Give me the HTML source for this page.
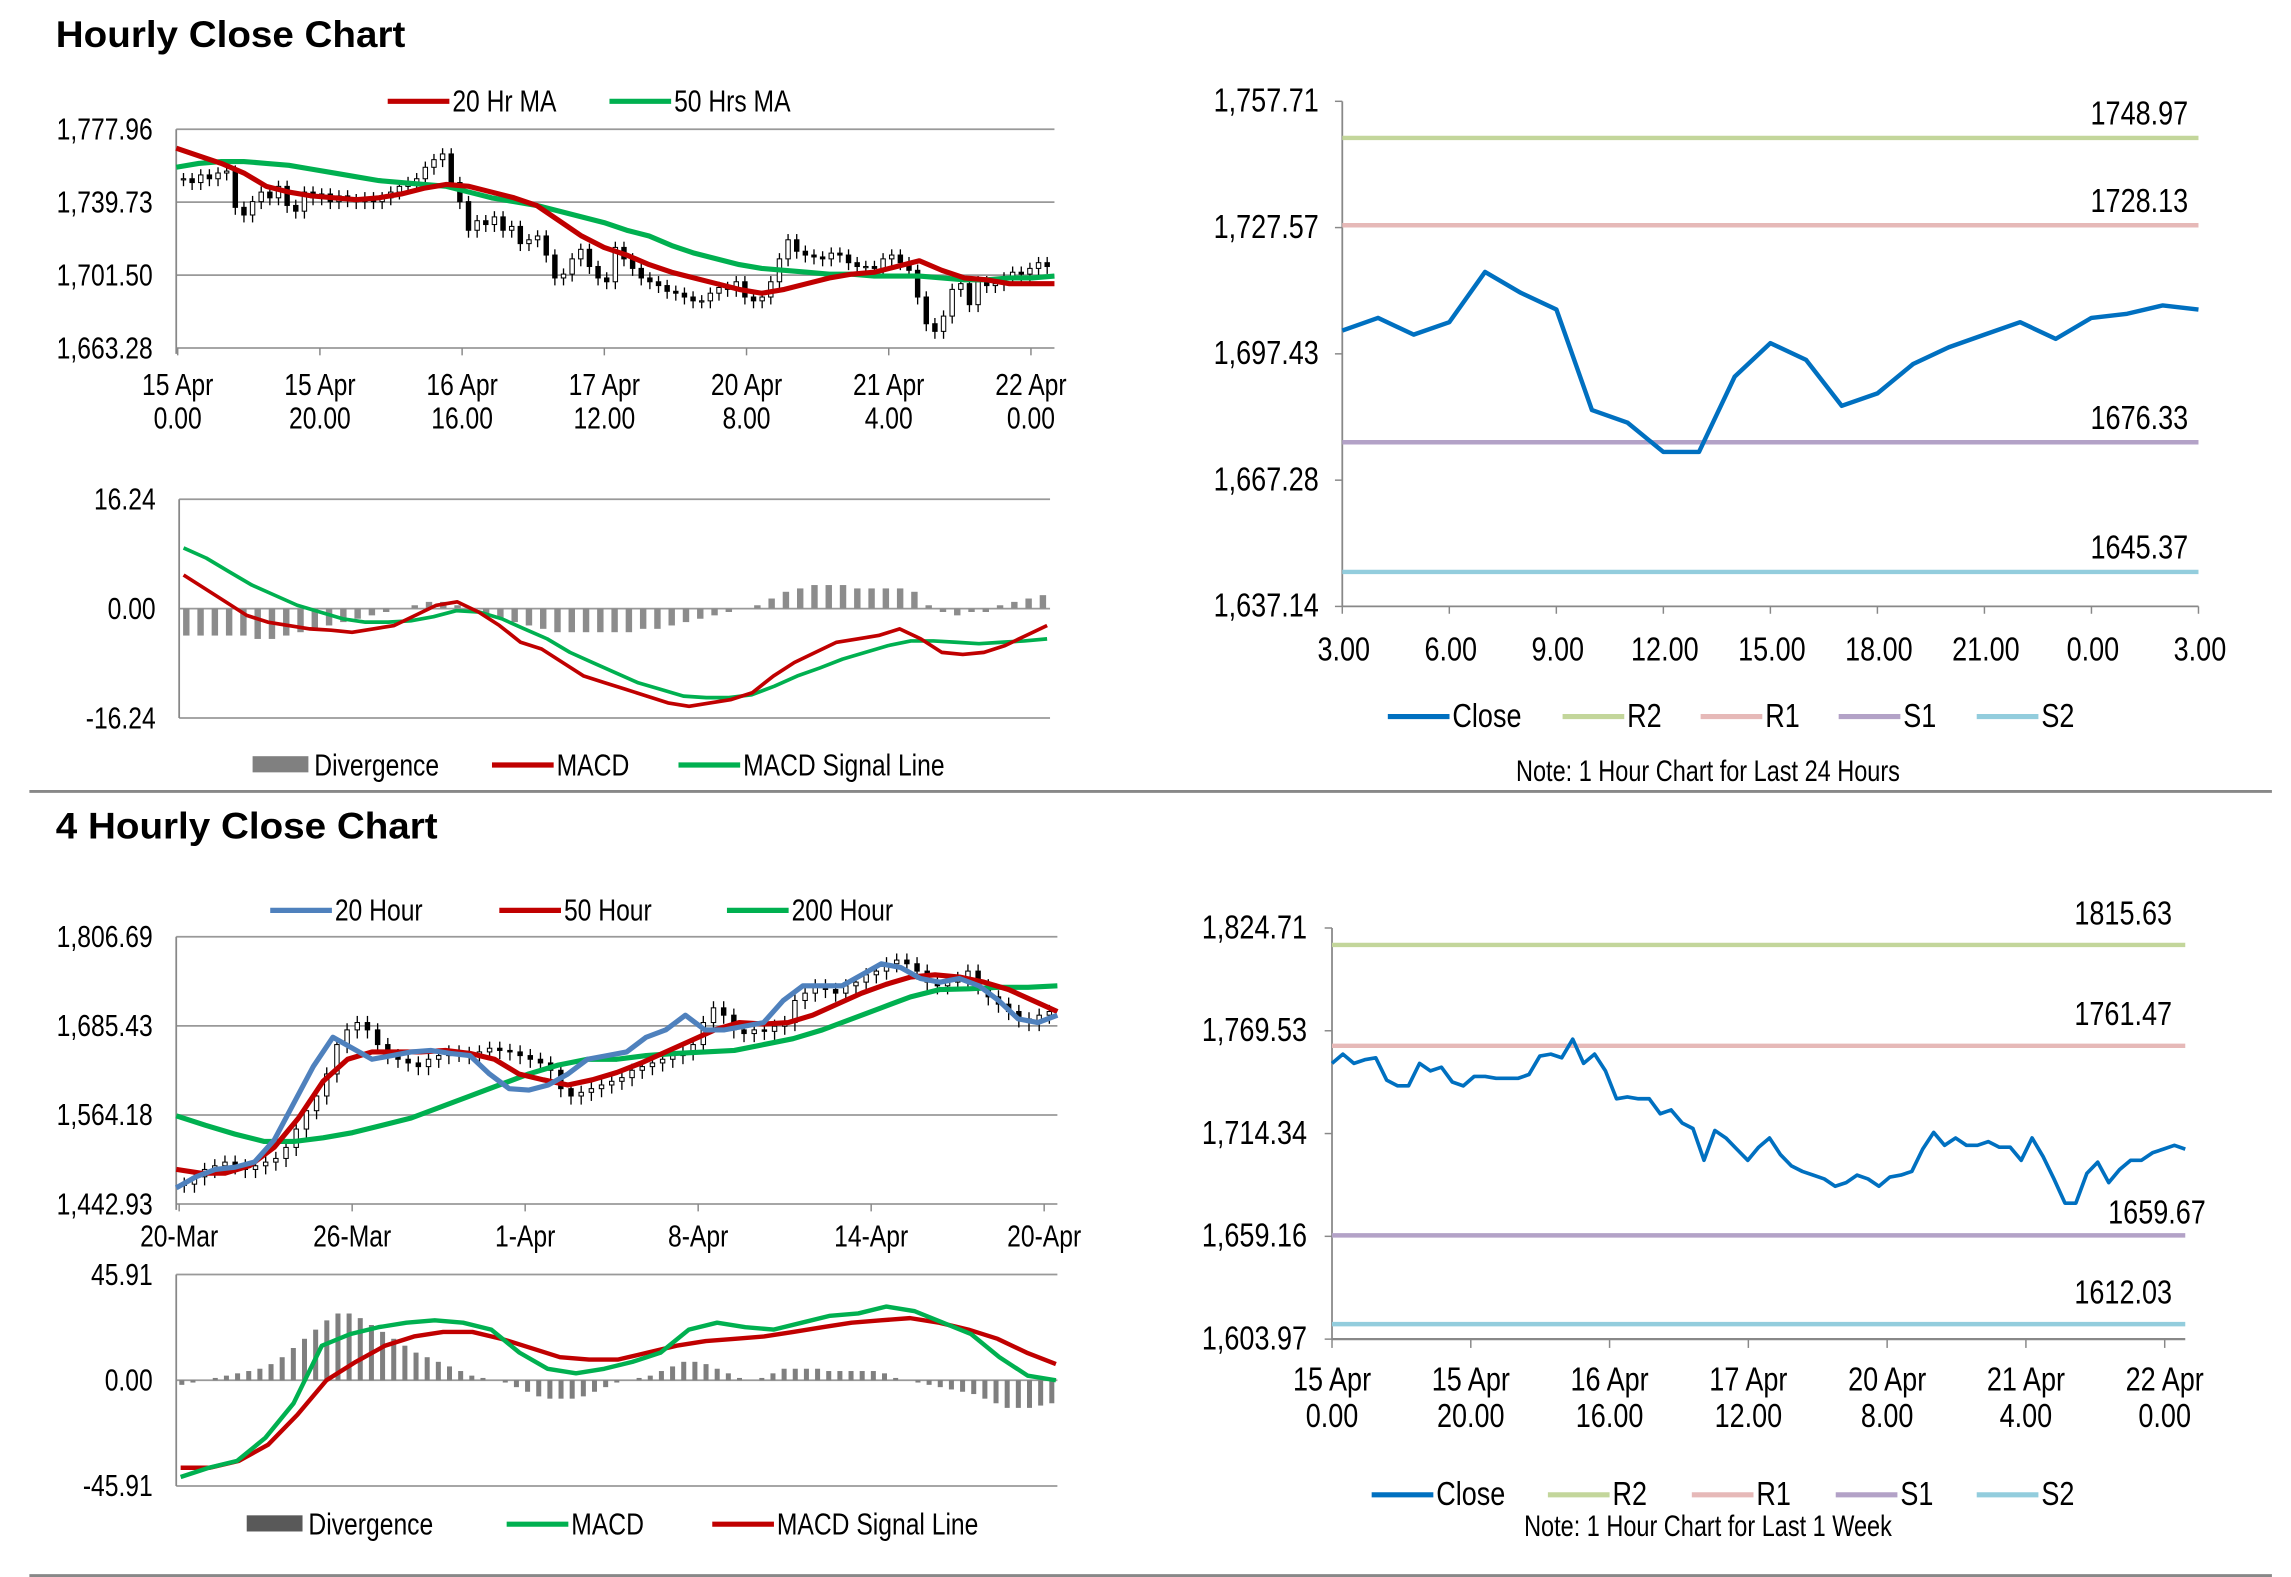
<!DOCTYPE html>
<html><head><meta charset="utf-8"><style>
html,body{margin:0;padding:0;background:#fff;}
svg{display:block;}
text{font-family:"Liberation Sans",sans-serif;fill:#000;}
.t{font-family:"Liberation Sans",sans-serif;font-weight:bold;}
</style></head><body>
<svg id="s" width="2291" height="1577" viewBox="0 0 1560 1074" preserveAspectRatio="none" xmlns="http://www.w3.org/2000/svg">
<text class="t" x="38" y="32" font-size="25" textLength="238" lengthAdjust="spacingAndGlyphs">Hourly Close Chart</text>
<text class="t" x="38" y="571" font-size="25" textLength="260" lengthAdjust="spacingAndGlyphs">4 Hourly Close Chart</text>
<line x1="20" y1="539" x2="1547" y2="539" stroke="#888" stroke-width="2"/>
<line x1="20" y1="1073" x2="1547" y2="1073" stroke="#888" stroke-width="2"/>
</svg>
<script>
// ---------- data ----------
const h1Closes=[1752,1750,1754,1752,1755,1756,1737,1733,1740,1745,1742,1748,1738,1735,1745,1742,1744,1740,1743,1741,1740,1742,1740,1742,1745,1748,1750,1752,1758,1762,1765,1750,1740,1725,1730,1728,1732,1725,1727,1718,1720,1722,1712,1700,1702,1710,1715,1706,1700,1698,1716,1710,1705,1700,1698,1696,1693,1692,1690,1688,1688,1692,1695,1694,1698,1690,1688,1690,1698,1710,1720,1714,1712,1711,1710,1713,1712,1708,1706,1706,1705,1710,1712,1708,1704,1690,1676,1672,1680,1694,1697,1686,1698,1696,1697,1700,1703,1702,1705,1708,1706];
const h1MA20=[1768,1764,1760,1755,1748,1745,1743,1742,1741,1742,1744,1747,1749,1748,1745,1742,1738,1730,1722,1716,1712,1707,1703,1700,1697,1694,1692,1694,1697,1700,1702,1703,1706,1709,1704,1700,1699,1697,1697,1697];
const h1MA50=[1758,1760,1761,1761,1760,1759,1757,1755,1753,1751,1750,1749,1748,1745,1742,1740,1738,1735,1732,1729,1725,1722,1717,1713,1710,1707,1705,1704,1703,1702,1702,1701,1701,1701,1700,1699,1699,1700,1700,1701];
const h1Ticks=[["15 Apr","0.00"],["15 Apr","20.00"],["16 Apr","16.00"],["17 Apr","12.00"],["20 Apr","8.00"],["21 Apr","4.00"],["22 Apr","0.00"]];
const h1YTicks=[1777.96,1739.73,1701.50,1663.28];
const m1Macd=[5,3,1,-1,-2,-2.5,-3,-3.2,-3.5,-3,-2.5,-1,0.5,1,-0.5,-2.5,-5,-6,-8,-10,-11,-12,-13,-14,-14.5,-14,-13.5,-12.5,-10,-8,-6.5,-5,-4.5,-4,-3,-4.5,-6.5,-6.8,-6.5,-5.5,-4,-2.5];
const m1Signal=[9,7.5,5.5,3.5,2,0.5,-0.5,-1.5,-2,-2,-1.8,-1.2,-0.3,-0.5,-1.5,-3,-4.5,-6.5,-8,-9.5,-11,-12,-13,-13.2,-13.2,-12.8,-11.5,-10,-8.8,-7.5,-6.5,-5.5,-4.8,-4.8,-5,-5.2,-5,-4.8,-4.5];
const m1Div=[-4,-4,-4,-4,-4,-4.5,-4.5,-4,-3.5,-3,-2.5,-2,-1.5,-1,-0.5,0,0.5,1,1,0.5,-0.5,-1,-1.5,-2,-2.5,-3,-3.5,-3.5,-3.5,-3.5,-3.5,-3.5,-3,-3,-2.5,-2,-1.5,-1,-0.5,0,0.5,1.5,2.5,3,3.5,3.5,3.5,3,3,3,3,2.5,0.5,-0.5,-1,-0.5,-0.5,0.5,1,1.5,2];
const m1YTicks=[16.24,0,-16.24];
const r1Close=[1703,1706,1702,1705,1717,1712,1708,1684,1681,1674,1674,1692,1700,1696,1685,1688,1695,1699,1702,1705,1701,1706,1707,1709,1708];
const r1Levels=[1748.97,1728.13,1676.33,1645.37];
const r1LevelNames=["R2","R1","S1","S2"];
const r1Ticks=["3.00","6.00","9.00","12.00","15.00","18.00","21.00","0.00","3.00"];
const r1YTicks=[1757.71,1727.57,1697.43,1667.28,1637.14];
const h4Closes=[1470,1480,1490,1495,1500,1495,1490,1495,1500,1505,1520,1545,1570,1590,1620,1660,1680,1690,1680,1660,1645,1640,1635,1630,1640,1645,1650,1648,1645,1650,1655,1652,1650,1645,1640,1635,1625,1600,1590,1595,1600,1605,1610,1615,1625,1630,1635,1640,1645,1650,1660,1690,1710,1700,1680,1675,1680,1678,1685,1690,1720,1730,1740,1735,1730,1740,1745,1755,1760,1770,1775,1770,1760,1745,1740,1745,1750,1760,1740,1725,1715,1705,1695,1690,1700,1705];
const h4MA20=[1465,1480,1490,1493,1500,1530,1580,1630,1670,1655,1640,1645,1650,1652,1648,1645,1620,1600,1598,1605,1620,1640,1645,1650,1670,1680,1700,1680,1680,1685,1690,1720,1740,1740,1740,1755,1770,1765,1750,1745,1750,1740,1720,1695,1690,1700];
const h4MA50=[1490,1485,1485,1495,1520,1560,1610,1640,1650,1650,1650,1652,1648,1640,1620,1612,1605,1612,1622,1635,1650,1665,1680,1690,1688,1690,1700,1715,1730,1742,1752,1755,1752,1745,1735,1720,1705];
const h4MA200=[1563,1550,1538,1528,1528,1533,1540,1550,1560,1575,1590,1605,1620,1632,1640,1640,1645,1648,1650,1652,1660,1668,1680,1695,1710,1725,1735,1736,1738,1738,1740];
const h4Ticks=["20-Mar","26-Mar","1-Apr","8-Apr","14-Apr","20-Apr"];
const h4YTicks=[1806.69,1685.43,1564.18,1442.93];
const m2Macd=[-42,-38,-35,-25,-10,15,20,23,25,26,25,22,12,5,3,5,8,12,22,25,23,22,25,28,29,32,30,25,20,10,2,0];
const m2Signal=[-38,-38,-35,-28,-15,0,8,15,19,21,21,18,14,10,9,9,12,15,17,18,19,21,23,25,26,27,25,22,18,12,7];
const m2Div=[-2,-1,0,1,2,3,4,5,7,10,14,18,22,26,29,29,27,24,21,18,15,12,10,8,6,4,2,1,0,-1,-3,-5,-7,-8,-8,-8,-7,-5,-3,-1,0,1,2,4,6,8,8,7,5,3,1,0,1,3,5,5,5,5,4,4,4,4,4,3,1,0,-1,-2,-3,-4,-5,-6,-8,-10,-12,-12,-12,-11,-10];
const m2YTicks=[45.91,0,-45.91];
const r2Close=[1752,1757,1752,1754,1755,1743,1740,1740,1752,1748,1750,1742,1740,1745,1745,1744,1744,1744,1746,1756,1757,1755,1765,1752,1757,1748,1733,1734,1733,1733,1725,1727,1720,1717,1700,1716,1712,1706,1700,1707,1712,1703,1697,1694,1692,1690,1686,1688,1692,1690,1686,1691,1692,1694,1706,1715,1708,1712,1708,1708,1710,1707,1707,1700,1712,1702,1690,1677,1677,1693,1699,1688,1695,1700,1700,1704,1706,1708,1706];
const r2Levels=[1815.63,1761.47,1659.67,1612.03];
const r2Ticks=[["15 Apr","0.00"],["15 Apr","20.00"],["16 Apr","16.00"],["17 Apr","12.00"],["20 Apr","8.00"],["21 Apr","4.00"],["22 Apr","0.00"]];
const r2YTicks=[1824.71,1769.53,1714.34,1659.16,1603.97];
const levelColors=["#c3d69b","#e6b9b8","#b3a2c7","#93cddd"];

// ---------- helpers ----------
const S=document.getElementById('s');
const NS="http://www.w3.org/2000/svg";
const FL=21, FR=23;
function mk(tag,attrs,txt){const e=document.createElementNS(NS,tag);for(const k in attrs)e.setAttribute(k,attrs[k]);if(txt!==undefined)e.textContent=txt;S.appendChild(e);return e;}
function scale(d0,d1,r0,r1){return v=>r0+(v-d0)/(d1-d0)*(r1-r0);}
function fmt(v){return v.toLocaleString('en-US',{minimumFractionDigits:2,maximumFractionDigits:2});}
function line(arr,xs,ys,x0,x1,color,w,name){
  const n=arr.length;const pts=arr.map((v,i)=>(x0+(x1-x0)*i/(n-1)).toFixed(1)+","+ys(v).toFixed(1)).join(" ");
  const e=mk('polyline',{points:pts,fill:'none',stroke:color,'stroke-width':w,'stroke-linejoin':'round'});
  
  
}
function ylabels(ticks,ys,x,fs,name,f){ticks.forEach(v=>{const t=mk('text',{x:x,y:ys(v)+7,'font-size':fs,'text-anchor':'end'},f?f(v):fmt(v));
  
  });}
function hgrid(ticks,ys,x0,x1,name){ticks.forEach(v=>{const l=mk('line',{x1:x0,x2:x1,y1:ys(v),y2:ys(v),stroke:'#999','stroke-width':1.2});
  
  });}
function legend(items,y,fs){items.forEach(it=>{
  if(it.bar){const r=mk('rect',{x:it.x,y:y-6,width:38,height:11,fill:it.c});}
  else{const l=mk('line',{x1:it.x,x2:it.x+42,y1:y,y2:y,stroke:it.c,'stroke-width':3.5});}
  const t=mk('text',{x:it.x+(it.bar?42:44),y:y+7,'font-size':fs},it.t);
  
  });}
function candles(closes,ys,x0,x1,name,wk){const n=closes.length;const dx=(x1-x0)/n;
  closes.forEach((c,i)=>{const o=i?closes[i-1]:c;const x=x0+dx*(i+0.5);const hi=Math.max(o,c)+wk,lo=Math.min(o,c)-wk*1.3;
    const w=mk('line',{x1:x,x2:x,y1:ys(hi),y2:ys(lo),stroke:'#000','stroke-width':0.9});
    
    
    const r=mk('rect',{x:x-1.5,y:Math.min(ys(o),ys(c)),width:3,height:Math.max(0.8,Math.abs(ys(o)-ys(c))),fill:c>=o?'#fff':'#000',stroke:'#000','stroke-width':0.7});
    
    });}
function divBars(arr,ys,x0,x1,color,name){const n=arr.length;const dx=(x1-x0)/n;
  arr.forEach((v,i)=>{const x=x0+dx*(i+0.5);const r=mk('line',{x1:x,x2:x,y1:ys(0),y2:ys(v),stroke:color,'stroke-width':Math.max(1,dx*0.45)});
    
    });}
function axisL(x,y0,y1){const a=mk('line',{x1:x,x2:x,y1:y0,y2:y1,stroke:'#888','stroke-width':1.2});}

// ---------- Panel 1: hourly price ----------
{const x0=120,x1=718;const ys=scale(1663.28,1777.96,237,88);
 hgrid(h1YTicks,ys,x0,x1,'gridline');axisL(x0,88,241);
 ylabels(h1YTicks,ys,104,FL,'y-tick-label');
 candles(h1Closes,ys,x0+2,x1-2,'candle',3);
 line(h1MA50,null,ys,x0,x1,'#00b050',3.5,'ma50-line');
 line(h1MA20,null,ys,x0,x1,'#c00000',3.5,'ma20-line');
 h1Ticks.forEach((t,i)=>{const x=121+(702-121)*i/6;
  const tk=mk('line',{x1:x,x2:x,y1:237,y2:242,stroke:'#888'});
  const a=mk('text',{x:x,y:269,'font-size':FL,'text-anchor':'middle'},t[0]);
  const b=mk('text',{x:x,y:292,'font-size':FL,'text-anchor':'middle'},t[1]);});
 legend([{x:264,c:'#c00000',t:'20 Hr MA'},{x:415,c:'#00b050',t:'50 Hrs MA'}],69,FL);}

// ---------- Panel 1 MACD ----------
{const x0=122,x1=715;const ys=scale(-16.24,16.24,489,340);
 hgrid(m1YTicks,ys,x0,x1,'gridline');axisL(x0,340,489);
 ylabels(m1YTicks,ys,106,FL,'y-tick-label',v=>v.toFixed(2));
 divBars(m1Div,ys,x0,x1,'#8c8c8c','divergence-bar');
 line(m1Signal,null,ys,x0+3,x1-2,'#00b050',2.5,'macd-signal-line');
 line(m1Macd,null,ys,x0+3,x1-2,'#c00000',2.5,'macd-line');
 legend([{x:172,c:'#808080',t:'Divergence',bar:1},{x:335,c:'#c00000',t:'MACD'},{x:462,c:'#00b050',t:'MACD Signal Line'}],521,FL);}

// ---------- Right chart 1 ----------
{const x0=914,x1=1497;const ys=scale(1637.14,1757.71,413,69);
 axisL(x0,69,413);
 const xa=mk('line',{x1:x0,x2:x1,y1:413,y2:413,stroke:'#888','stroke-width':1.2});
 r1YTicks.forEach(v=>{const tk=mk('line',{x1:x0-5,x2:x0,y1:ys(v),y2:ys(v),stroke:'#888'});});
 ylabels(r1YTicks,ys,898,FR,'y-tick-label');
 r1Levels.forEach((v,i)=>{const l=mk('line',{x1:x0,x2:x1,y1:ys(v),y2:ys(v),stroke:levelColors[i],'stroke-width':3});
  
  
  const t=mk('text',{x:1490,y:ys(v)-9,'font-size':FR,'text-anchor':'end'},v.toFixed(2));
  
  });
 r1Ticks.forEach((t,i)=>{const x=x0+(x1-x0)*i/8;
  const tk=mk('line',{x1:x,x2:x,y1:413,y2:418,stroke:'#888'});
  const a=mk('text',{x:x+1,y:450,'font-size':FR,'text-anchor':'middle'},t);});
 line(r1Close,null,ys,x0,x1,'#0070c0',3,'close-line');
 legend([{x:945,c:'#0070c0',t:'Close'},{x:1064,c:levelColors[0],t:'R2'},{x:1158,c:levelColors[1],t:'R1'},{x:1252,c:levelColors[2],t:'S1'},{x:1346,c:levelColors[3],t:'S2'}],488,FR);
 const n=mk('text',{x:1163,y:532,'font-size':20,'text-anchor':'middle'},'Note: 1 Hour Chart for Last 24 Hours');}

// ---------- Panel 2: 4-hourly price ----------
{const x0=120,x1=720;const ys=scale(1442.93,1806.69,820,638);
 hgrid(h4YTicks,ys,x0,x1,'gridline');axisL(x0,638,824);
 ylabels(h4YTicks,ys,104,FL,'y-tick-label');
 candles(h4Closes,ys,x0+2,x1-2,'candle',9);
 line(h4MA200,null,ys,x0,x1,'#00b050',3.5,'ma200-line');
 line(h4MA50,null,ys,x0,x1,'#c00000',3.5,'ma50-line');
 line(h4MA20,null,ys,x0,x1,'#4f81bd',3.5,'ma20-line');
 h4Ticks.forEach((t,i)=>{const x=122+(711-122)*i/5;
  const tk=mk('line',{x1:x,x2:x,y1:820,y2:825,stroke:'#888'});
  const a=mk('text',{x:x,y:849,'font-size':FL,'text-anchor':'middle'},t);});
 legend([{x:184,c:'#4f81bd',t:'20 Hour'},{x:340,c:'#c00000',t:'50 Hour'},{x:495,c:'#00b050',t:'200 Hour'}],620,FL);}

// ---------- Panel 2 MACD ----------
{const x0=120,x1=720;const ys=scale(-45.91,45.91,1012,868);
 hgrid(m2YTicks,ys,x0,x1,'gridline');axisL(x0,868,1012);
 ylabels(m2YTicks,ys,104,FL,'y-tick-label',v=>v.toFixed(2));
 divBars(m2Div,ys,x0,x1,'#7f7f7f','divergence-bar');
 line(m2Signal,null,ys,x0+3,x1-1,'#c00000',3,'macd-signal-line');
 line(m2Macd,null,ys,x0+3,x1-1,'#00b050',3,'macd-line');
 legend([{x:168,c:'#595959',t:'Divergence',bar:1},{x:345,c:'#00b050',t:'MACD'},{x:485,c:'#c00000',t:'MACD Signal Line'}],1038,FL);}

// ---------- Right chart 2 ----------
{const x0=907,x1=1488;const ys=scale(1603.97,1824.71,912,632);
 axisL(x0,632,912);
 const xa=mk('line',{x1:x0,x2:x1,y1:912,y2:912,stroke:'#888','stroke-width':1.5});
 r2YTicks.forEach(v=>{const tk=mk('line',{x1:x0-5,x2:x0,y1:ys(v),y2:ys(v),stroke:'#888'});});
 ylabels(r2YTicks,ys,890,FR,'y-tick-label');
 r2Levels.forEach((v,i)=>{const l=mk('line',{x1:x0,x2:x1,y1:ys(v),y2:ys(v),stroke:levelColors[i],'stroke-width':3});
  
  
  const t=mk('text',{x:i==2?1502:1479,y:ys(v)-(i==2?8:14),'font-size':FR,'text-anchor':'end'},v.toFixed(2));
  
  });
 r2Ticks.forEach((t,i)=>{const x=x0+(1474-x0)*i/6;
  const tk=mk('line',{x1:x,x2:x,y1:912,y2:918,stroke:'#888'});
  const a=mk('text',{x:x,y:947,'font-size':FR,'text-anchor':'middle'},t[0]);
  const b=mk('text',{x:x,y:972,'font-size':FR,'text-anchor':'middle'},t[1]);});
 line(r2Close,null,ys,x0,x1,'#0070c0',2.5,'close-line');
 legend([{x:934,c:'#0070c0',t:'Close'},{x:1054,c:levelColors[0],t:'R2'},{x:1152,c:levelColors[1],t:'R1'},{x:1250,c:levelColors[2],t:'S1'},{x:1346,c:levelColors[3],t:'S2'}],1018,FR);
 const n=mk('text',{x:1163,y:1046,'font-size':20,'text-anchor':'middle'},'Note: 1 Hour Chart for Last 1 Week');}

// condense non-title text to mimic narrow font
S.querySelectorAll('text:not(.t)').forEach(t=>{const w=t.getComputedTextLength();if(w>0){t.setAttribute('textLength',(w*0.8).toFixed(1));t.setAttribute('lengthAdjust','spacingAndGlyphs');}});
</script>
</body></html>
